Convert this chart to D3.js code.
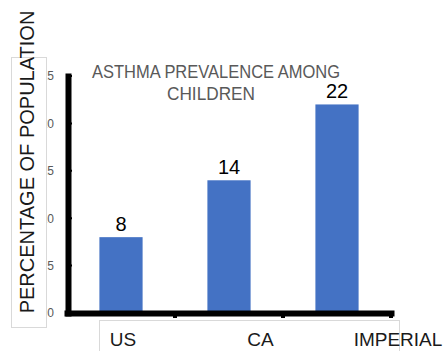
<!DOCTYPE html>
<html>
<head>
<meta charset="utf-8">
<script src="https://cdn.jsdelivr.net/npm/d3@7"></script>
<style>
  html, body { margin: 0; padding: 0; background: #fff; }
  svg { display: block; }
  text { font-family: "Liberation Sans", Arial, sans-serif; }
</style>
</head>
<body>
<svg id="chart" width="446" height="351"></svg>
<script>
// Asthma prevalence among children, percentage of population
const categories = ["US", "CA", "IMPERIAL"];
const values = [8, 14, 22];
const yTicks = [0, 5, 10, 15, 20, 25];
const titleLines = ["ASTHMA PREVALENCE AMONG", "CHILDREN"];
const yTitle = "PERCENTAGE OF POPULATION";

const svg = d3.select("#chart");

const y = d3.scaleLinear().domain([0, 25]).range([313, 76]);
const x = d3.scaleBand().domain(categories).range([67, 391])
  .paddingInner(0.6).paddingOuter(0.3);
const labelX = d3.scalePoint().domain(categories).range([123, 398]);

// bars
svg.append("g").selectAll("rect").data(values).join("rect")
  .attr("x", (d, i) => x(categories[i]))
  .attr("y", d => y(d))
  .attr("width", x.bandwidth())
  .attr("height", d => y(0) - y(d))
  .attr("fill", "#4472c4");

// value labels
svg.append("g").selectAll("text").data(values).join("text")
  .attr("x", (d, i) => x(categories[i]) + x.bandwidth() / 2)
  .attr("y", d => y(d) - 6)
  .attr("text-anchor", "middle")
  .attr("font-size", 20)
  .attr("fill", "#000")
  .text(d => d);

// y axis
const yAxis = svg.append("g").attr("transform", "translate(68,0)")
  .call(d3.axisLeft(y).tickValues(yTicks).tickSize(0).tickPadding(14));
yAxis.select(".domain").attr("stroke", "#000").attr("stroke-width", 6)
  .attr("stroke-linecap", "square");
yAxis.selectAll(".tick text").attr("font-size", 12).attr("fill", "#595959")
  .attr("font-family", "Liberation Sans, Arial, sans-serif");

// small notches on the y axis
svg.append("g").selectAll("line").data(yTicks).join("line")
  .attr("x1", 70).attr("x2", 72)
  .attr("y1", d => y(d)).attr("y2", d => y(d))
  .attr("stroke", "#000").attr("stroke-width", 2);

// y axis title box
svg.append("rect")
  .attr("x", 11.5).attr("y", 57.5).attr("width", 35).attr("height", 270)
  .attr("fill", "#fff").attr("stroke", "#d9d9d9").attr("stroke-width", 1);

svg.append("text")
  .attr("transform", "translate(34,162) rotate(-90)")
  .attr("text-anchor", "middle")
  .attr("font-size", 20)
  .attr("fill", "#1a1a1a")
  .text(yTitle);

// x axis
const xAxis = svg.append("g").attr("transform", `translate(0,${y(0)})`)
  .call(d3.axisBottom(x).tickSize(0).tickFormat(""));
xAxis.select(".domain").attr("stroke", "#000").attr("stroke-width", 6)
  .attr("stroke-linecap", "square");

// band boundary ticks
const step = x.step();
const bounds = categories.map((c, i) => x.range()[0] + step * (i + 1));
svg.append("g").selectAll("line").data(bounds).join("line")
  .attr("x1", d => d).attr("x2", d => d)
  .attr("y1", y(0)).attr("y2", y(0) + 5)
  .attr("stroke", "#000").attr("stroke-width", 4);

// category label box
svg.append("rect")
  .attr("x", 99.5).attr("y", 320.5).attr("width", 300).attr("height", 40)
  .attr("fill", "#fff").attr("stroke", "#d9d9d9").attr("stroke-width", 1);

svg.append("g").selectAll("text").data(categories).join("text")
  .attr("x", d => labelX(d))
  .attr("y", 346)
  .attr("text-anchor", "middle")
  .attr("font-size", 19)
  .attr("fill", "#1a1a1a")
  .text(d => d);

// chart title, set in a slightly condensed face
const titleWidths = [248, 88];
svg.append("g").selectAll("text").data(titleLines).join("text")
  .attr("x", (d, i) => i === 0 ? 216 : 211)
  .attr("y", (d, i) => 78 + i * 22)
  .attr("text-anchor", "middle")
  .attr("font-size", 17.5)
  .attr("textLength", (d, i) => titleWidths[i])
  .attr("lengthAdjust", "spacingAndGlyphs")
  .attr("fill", "#595959")
  .text(d => d);
</script>
</body>
</html>
